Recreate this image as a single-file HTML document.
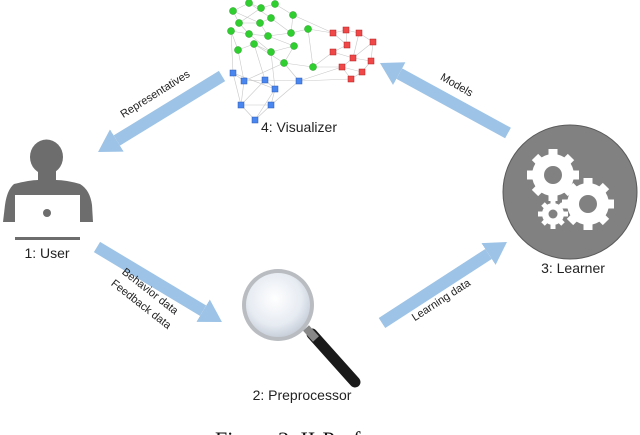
<!DOCTYPE html>
<html><head><meta charset="utf-8"><style>
html,body{margin:0;padding:0;background:#fff;}
svg{display:block;font-family:"Liberation Sans",sans-serif;}
</style></head><body>
<svg width="640" height="435" viewBox="0 0 640 435" xmlns="http://www.w3.org/2000/svg">
<defs>
<marker id="ah" markerUnits="userSpaceOnUse" markerWidth="24" markerHeight="28" refX="0" refY="13" orient="auto">
<path d="M0,0 L22,13 L0,26 z" fill="#9dc3e6"/>
</marker>
<radialGradient id="lens" cx="45%" cy="40%" r="60%">
<stop offset="0" stop-color="#ffffff"/><stop offset="0.7" stop-color="#e6ebf2"/><stop offset="1" stop-color="#c9d0da"/>
</radialGradient>
</defs>

<g stroke="#9dc3e6" stroke-width="12" fill="none" marker-end="url(#ah)">
<line x1="222" y1="76" x2="116.8" y2="140.5"/>
<line x1="97" y1="247" x2="203.1" y2="310.7"/>
<line x1="382" y1="323" x2="488.5" y2="254"/>
<line x1="508" y1="133" x2="399.3" y2="73.6"/>
</g>

<g font-size="11" fill="#222">
<text x="157" y="97" text-anchor="middle" transform="rotate(-32 157 97)">Representatives</text>
<text x="455" y="88" text-anchor="middle" transform="rotate(30 455 88)">Models</text>
<text x="443" y="303" text-anchor="middle" transform="rotate(-33 443 303)">Learning data</text>
<text x="148" y="294" text-anchor="middle" transform="rotate(38 148 294)">Behavior data</text>
<text x="139" y="307" text-anchor="middle" transform="rotate(38 139 307)">Feedback data</text>
</g>

<g fill="#6d6d6d">
<ellipse cx="46.5" cy="157" rx="16.5" ry="17.5"/>
<rect x="38" y="168" width="18" height="16"/>
<path d="M14,184 Q30,180 38,180 L56,180 Q66,180 80,184 Q90,190 92,205 L93,222 L3,222 L5,205 Q7,190 14,184 z"/>
</g>
<rect x="15" y="195" width="65" height="38" fill="#fff"/>
<circle cx="47" cy="213" r="4" fill="#6d6d6d"/>
<rect x="15" y="237" width="65" height="3" fill="#6d6d6d"/>
<text x="47" y="258" font-size="14" text-anchor="middle" fill="#222">1: User</text>

<line x1="312" y1="334" x2="355" y2="382" stroke="#1a1a1a" stroke-width="11" stroke-linecap="round"/>
<line x1="306" y1="328" x2="316" y2="339" stroke="#888" stroke-width="8"/>
<circle cx="278" cy="305" r="36" fill="#b9bcc0"/>
<circle cx="278" cy="305" r="32" fill="url(#lens)"/>
<text x="302" y="400" font-size="14" text-anchor="middle" fill="#222">2: Preprocessor</text>

<circle cx="570" cy="192" r="67" fill="#818181" stroke="#5a5a5a" stroke-width="1"/>
<g fill="#fff">
<circle cx="553" cy="175" r="21"/>
<g stroke="#fff" stroke-width="9">
<line x1="553" y1="149" x2="553" y2="201"/><line x1="527" y1="175" x2="579" y2="175"/>
<line x1="535" y1="157" x2="571" y2="193"/><line x1="571" y1="157" x2="535" y2="193"/>
</g>
<circle cx="588" cy="204" r="21"/>
<g stroke="#fff" stroke-width="9">
<line x1="588" y1="178" x2="588" y2="230"/><line x1="562" y1="204" x2="614" y2="204"/>
<line x1="570" y1="186" x2="606" y2="222"/><line x1="606" y1="186" x2="570" y2="222"/>
</g>
<circle cx="553" cy="214" r="11"/>
<g stroke="#fff" stroke-width="5">
<line x1="553" y1="199" x2="553" y2="229"/><line x1="538" y1="214" x2="568" y2="214"/>
<line x1="543" y1="204" x2="563" y2="224"/><line x1="563" y1="204" x2="543" y2="224"/>
</g>
</g>
<circle cx="553" cy="175" r="9" fill="#818181"/>
<circle cx="588" cy="204" r="9" fill="#818181"/>
<circle cx="553" cy="214" r="4.5" fill="#818181"/>
<text x="573" y="273" font-size="14" text-anchor="middle" fill="#222">3: Learner</text>

<g stroke="#c8c8c8" stroke-width="0.6">
<line x1="249" y1="3" x2="261" y2="8"/><line x1="249" y1="3" x2="233" y2="11"/><line x1="249" y1="3" x2="271" y2="18"/><line x1="261" y1="8" x2="275" y2="4"/>
<line x1="275" y1="4" x2="293" y2="15"/><line x1="233" y1="11" x2="239" y2="23"/><line x1="239" y1="23" x2="260" y2="23"/><line x1="260" y1="23" x2="271" y2="18"/>
<line x1="231" y1="31" x2="249" y2="34"/><line x1="249" y1="34" x2="268" y2="36"/><line x1="268" y1="36" x2="291" y2="33"/><line x1="291" y1="33" x2="308" y2="29"/>
<line x1="293" y1="15" x2="291" y2="33"/><line x1="238" y1="50" x2="254" y2="44"/><line x1="254" y1="44" x2="271" y2="52"/><line x1="271" y1="52" x2="294" y2="46"/>
<line x1="294" y1="46" x2="284" y2="63"/><line x1="284" y1="63" x2="313" y2="67"/><line x1="308" y1="29" x2="313" y2="67"/><line x1="231" y1="31" x2="238" y2="50"/>
<line x1="239" y1="23" x2="249" y2="34"/><line x1="260" y1="23" x2="268" y2="36"/><line x1="233" y1="11" x2="260" y2="23"/><line x1="271" y1="18" x2="291" y2="33"/>
<line x1="261" y1="8" x2="239" y2="23"/><line x1="249" y1="34" x2="271" y2="52"/><line x1="268" y1="36" x2="294" y2="46"/><line x1="254" y1="44" x2="284" y2="63"/>
<line x1="308" y1="29" x2="333" y2="33"/><line x1="313" y1="67" x2="333" y2="52"/><line x1="313" y1="67" x2="342" y2="67"/><line x1="293" y1="15" x2="333" y2="33"/>
<line x1="333" y1="33" x2="346" y2="30"/><line x1="346" y1="30" x2="359" y2="33"/><line x1="359" y1="33" x2="373" y2="42"/><line x1="333" y1="33" x2="347" y2="45"/>
<line x1="347" y1="45" x2="333" y2="52"/><line x1="333" y1="52" x2="353" y2="58"/><line x1="353" y1="58" x2="371" y2="61"/><line x1="373" y1="42" x2="371" y2="61"/>
<line x1="342" y1="67" x2="362" y2="72"/><line x1="362" y1="72" x2="351" y2="79"/><line x1="342" y1="67" x2="351" y2="79"/><line x1="353" y1="58" x2="342" y2="67"/>
<line x1="373" y1="42" x2="353" y2="58"/><line x1="346" y1="30" x2="347" y2="45"/><line x1="371" y1="61" x2="362" y2="72"/><line x1="359" y1="33" x2="353" y2="58"/>
<line x1="233" y1="73" x2="244" y2="81"/><line x1="244" y1="81" x2="265" y2="80"/><line x1="265" y1="80" x2="299" y2="81"/><line x1="265" y1="80" x2="275" y2="89"/>
<line x1="244" y1="81" x2="241" y2="105"/><line x1="241" y1="105" x2="271" y2="105"/><line x1="271" y1="105" x2="255" y2="120"/><line x1="241" y1="105" x2="255" y2="120"/>
<line x1="275" y1="89" x2="271" y2="105"/><line x1="233" y1="73" x2="241" y2="105"/><line x1="233" y1="73" x2="275" y2="89"/><line x1="265" y1="80" x2="241" y2="105"/>
<line x1="231" y1="31" x2="233" y2="73"/><line x1="238" y1="50" x2="244" y2="81"/><line x1="254" y1="44" x2="265" y2="80"/><line x1="284" y1="63" x2="299" y2="81"/>
<line x1="271" y1="52" x2="275" y2="89"/><line x1="299" y1="81" x2="351" y2="79"/><line x1="299" y1="81" x2="342" y2="67"/><line x1="244" y1="81" x2="284" y2="63"/>
<line x1="255" y1="120" x2="275" y2="89"/><line x1="271" y1="105" x2="299" y2="81"/>
</g>
<g fill="#2fcf2f" stroke="#1a9a1a" stroke-width="0.5">
<circle cx="249" cy="3" r="3.5"/><circle cx="261" cy="8" r="3.5"/><circle cx="275" cy="4" r="3.5"/><circle cx="233" cy="11" r="3.5"/>
<circle cx="271" cy="18" r="3.5"/><circle cx="293" cy="15" r="3.5"/><circle cx="239" cy="23" r="3.5"/><circle cx="260" cy="23" r="3.5"/>
<circle cx="231" cy="31" r="3.5"/><circle cx="249" cy="34" r="3.5"/><circle cx="268" cy="36" r="3.5"/><circle cx="291" cy="33" r="3.5"/>
<circle cx="308" cy="29" r="3.5"/><circle cx="238" cy="50" r="3.5"/><circle cx="254" cy="44" r="3.5"/><circle cx="271" cy="52" r="3.5"/>
<circle cx="294" cy="46" r="3.5"/><circle cx="284" cy="63" r="3.5"/><circle cx="313" cy="67" r="3.5"/>
</g>
<g fill="#f04848" stroke="#b02020" stroke-width="0.5">
<rect x="330" y="30" width="6" height="6"/><rect x="343" y="27" width="6" height="6"/><rect x="356" y="30" width="6" height="6"/><rect x="370" y="39" width="6" height="6"/>
<rect x="344" y="42" width="6" height="6"/><rect x="330" y="49" width="6" height="6"/><rect x="350" y="55" width="6" height="6"/><rect x="368" y="58" width="6" height="6"/>
<rect x="339" y="64" width="6" height="6"/><rect x="359" y="69" width="6" height="6"/><rect x="348" y="76" width="6" height="6"/>
</g>
<g fill="#4a86f0" stroke="#2a5ab0" stroke-width="0.5">
<rect x="230" y="70" width="6" height="6"/><rect x="241" y="78" width="6" height="6"/><rect x="262" y="77" width="6" height="6"/><rect x="296" y="78" width="6" height="6"/>
<rect x="272" y="86" width="6" height="6"/><rect x="238" y="102" width="6" height="6"/><rect x="268" y="102" width="6" height="6"/><rect x="252" y="117" width="6" height="6"/>
</g>
<text x="299" y="132" font-size="14" text-anchor="middle" fill="#222">4: Visualizer</text>

<text x="215" y="447" font-family="Liberation Serif, serif" font-size="22" fill="#111">Figure 3: II-Prof</text>
</svg>
</body></html>
